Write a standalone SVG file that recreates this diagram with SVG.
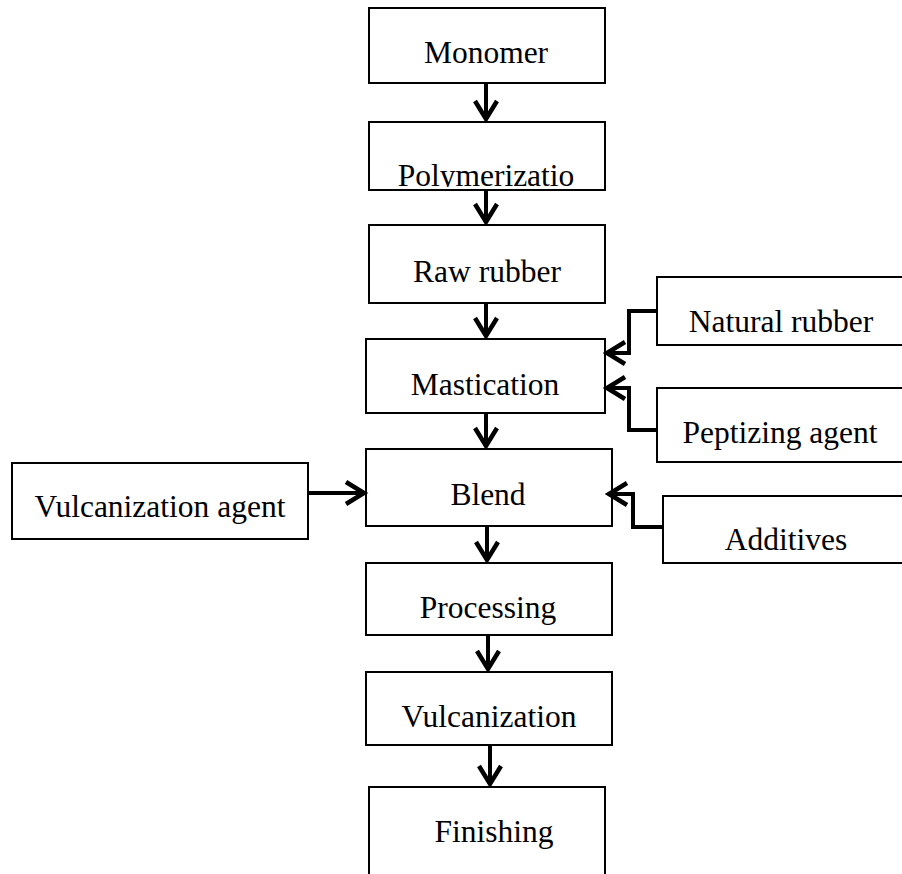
<svg xmlns="http://www.w3.org/2000/svg" width="902" height="874" viewBox="0 0 902 874">
<style>
.box{fill:#fff;stroke:#000;stroke-width:2}
.lbl{font-family:"Liberation Serif","Times New Roman",serif;font-size:31.5px;fill:#000;text-anchor:middle}
.con{fill:none;stroke:#000;stroke-width:4;stroke-linejoin:miter}
</style>
<defs>
<marker id="ah" markerUnits="userSpaceOnUse" markerWidth="30" markerHeight="30" viewBox="-24 -15 30 30" refX="0" refY="0" orient="auto" overflow="visible">
<path d="M -18 -11 L 0 0 L -18 11" fill="none" stroke="#000" stroke-width="4.5" stroke-linejoin="miter"/>
</marker>
<clipPath id="clipPoly"><rect x="369" y="122" width="236" height="65"/></clipPath>
</defs>
<rect width="902" height="874" fill="#fff"/>
<g id="monomer"><rect class="box" x="369" y="8" width="236" height="75"/><text class="lbl" x="486" y="63">Monomer</text></g>
<g id="polymerization"><rect class="box" x="369" y="122" width="236" height="68"/><text class="lbl" x="486" y="186" clip-path="url(#clipPoly)">Polymerizatio</text></g>
<g id="raw-rubber"><rect class="box" x="369" y="225" width="236" height="78"/><text class="lbl" x="487" y="282">Raw rubber</text></g>
<g id="mastication"><rect class="box" x="366" y="339" width="239" height="74"/><text class="lbl" x="485" y="395">Mastication</text></g>
<g id="blend"><rect class="box" x="366" y="449" width="246" height="77"/><text class="lbl" x="488" y="505">Blend</text></g>
<g id="processing"><rect class="box" x="366" y="563" width="246" height="72"/><text class="lbl" x="488" y="618">Processing</text></g>
<g id="vulcanization"><rect class="box" x="366" y="672" width="246" height="73"/><text class="lbl" x="489" y="727">Vulcanization</text></g>
<g id="finishing"><rect class="box" x="369" y="787" width="236" height="100"/><text class="lbl" x="494" y="842">Finishing</text></g>
<g id="natural-rubber"><rect class="box" x="657" y="277" width="250" height="68"/><text class="lbl" x="781" y="332">Natural rubber</text></g>
<g id="peptizing-agent"><rect class="box" x="657" y="388" width="250" height="74"/><text class="lbl" x="780" y="443">Peptizing agent</text></g>
<g id="additives"><rect class="box" x="663" y="496" width="244" height="67"/><text class="lbl" x="786" y="550">Additives</text></g>
<g id="vulcanization-agent"><rect class="box" x="12" y="463" width="296" height="76"/><text class="lbl" x="160" y="517">Vulcanization agent</text></g>
<g id="connectors">
<line class="con" x1="486" y1="83" x2="486" y2="119" marker-end="url(#ah)"/>
<line class="con" x1="486" y1="190" x2="486" y2="222" marker-end="url(#ah)"/>
<line class="con" x1="486" y1="303" x2="486" y2="336" marker-end="url(#ah)"/>
<line class="con" x1="486" y1="413" x2="486" y2="446" marker-end="url(#ah)"/>
<line class="con" x1="487" y1="526" x2="487" y2="560" marker-end="url(#ah)"/>
<line class="con" x1="488" y1="635" x2="488" y2="669" marker-end="url(#ah)"/>
<line class="con" x1="490" y1="745" x2="490" y2="784" marker-end="url(#ah)"/>
<line class="con" x1="308" y1="493" x2="364" y2="493" marker-end="url(#ah)"/>
<polyline class="con" points="657,311 629,311 629,353 607,353" marker-end="url(#ah)"/>
<polyline class="con" points="657,430 629,430 629,388 607,388" marker-end="url(#ah)"/>
<polyline class="con" points="663,527 633,527 633,494 609,494" marker-end="url(#ah)"/>
</g>
</svg>
